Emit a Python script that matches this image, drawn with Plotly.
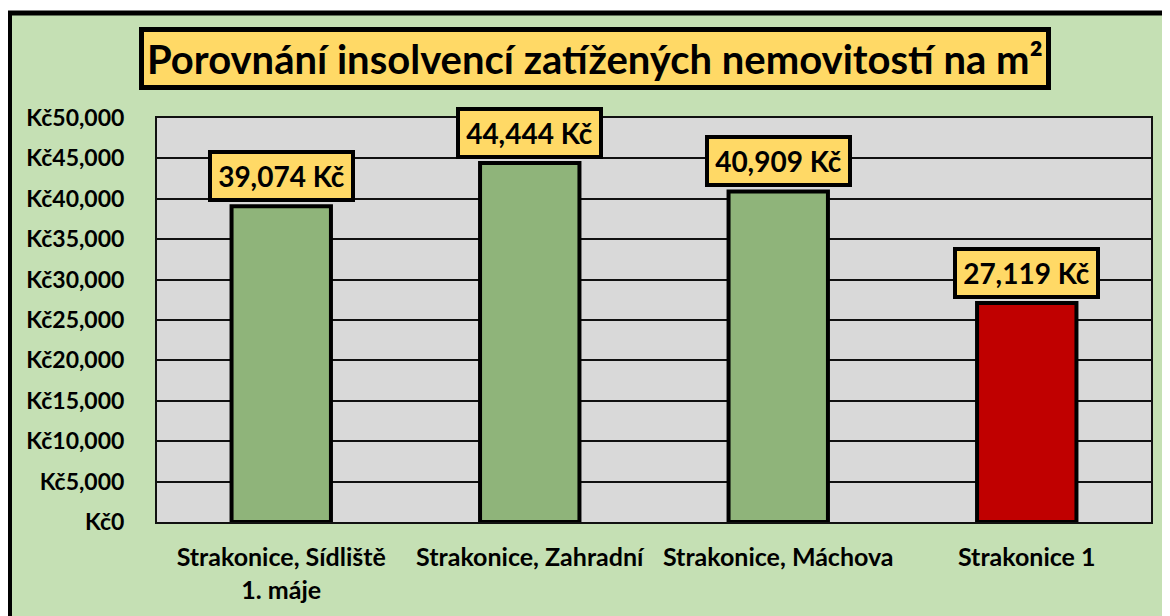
import plotly.graph_objects as go

categories = ["Strakonice, Sídliště<br>1. máje", "Strakonice, Zahradní", "Strakonice, Máchova", "Strakonice 1"]
values = [39074, 44444, 40909, 27119]
bar_colors = ["#8FB47A", "#8FB47A", "#8FB47A", "#C00000"]
tick_vals = [0, 5000, 10000, 15000, 20000, 25000, 30000, 35000, 40000, 45000, 50000]
tick_text = ["Kč0", "Kč5,000", "Kč10,000", "Kč15,000", "Kč20,000", "Kč25,000",
             "Kč30,000", "Kč35,000", "Kč40,000", "Kč45,000", "Kč50,000"]
title_text = "Porovnání insolvencí zatížených nemovitostí na m²"

W, H = 1170, 616
OFF = 8  # page body margin: screen px = figure px + OFF
L, R, T, B = 157 - OFF, 1151 - OFF, 118 - OFF, 522 - OFF
FONT = "Lato"


def px(x):
    return (x - OFF - L) / (R - L)


def py(y):
    return (B - (y - OFF)) / (B - T)


fig = go.Figure()
fig.add_trace(go.Bar(
    x=categories, y=values,
    marker=dict(color=bar_colors, line=dict(color="black", width=4)),
    hoverinfo="skip",
))

annotations = []
for c, v in zip(categories, values):
    annotations.append(dict(
        x=c, y=v, xref="x", yref="y", yanchor="bottom", yshift=4,
        text=f"{v:,} Kč", showarrow=False,
        font=dict(family=FONT, size=28, color="black", weight="bold"),
        bgcolor="#FFD966", bordercolor="black", borderwidth=4, borderpad=2,
        width=135, height=40,
    ))

annotations.append(dict(
    x=px(595), y=py(59), xref="paper", yref="paper",
    xanchor="center", yanchor="middle",
    text=title_text, showarrow=False,
    font=dict(family=FONT, size=40, color="black", weight="bold"),
))

shapes = [
    # title box
    dict(type="rect", xref="paper", yref="paper",
         x0=px(141.5), x1=px(1048.5), y0=py(87.5), y1=py(29.5),
         fillcolor="#FFD966", line=dict(color="black", width=5), layer="above"),
    # white strips outside the chart frame
    dict(type="rect", xref="paper", yref="paper",
         x0=px(-20), x1=px(W + 20), y0=py(11), y1=py(-20),
         fillcolor="white", line=dict(width=0)),
    dict(type="rect", xref="paper", yref="paper",
         x0=px(-20), x1=px(7), y0=py(H + 20), y1=py(-20),
         fillcolor="white", line=dict(width=0)),
    # frame lines
    dict(type="line", xref="paper", yref="paper",
         x0=px(9.5), x1=px(9.5), y0=py(13), y1=py(H + 20),
         line=dict(color="black", width=5)),
    dict(type="line", xref="paper", yref="paper",
         x0=px(7), x1=px(W + 20), y0=py(13), y1=py(13),
         line=dict(color="black", width=5)),
]

fig.update_layout(
    width=W, height=H,
    margin=dict(l=L, r=W - R, t=T, b=H - B),
    paper_bgcolor="#C5E0B4",
    plot_bgcolor="#D9D9D9",
    bargap=0.6,
    showlegend=False,
    annotations=annotations,
    shapes=shapes,
    font=dict(family=FONT, color="black"),
)
fig.update_yaxes(
    range=[0, 50000], tickvals=tick_vals, ticktext=tick_text,
    showgrid=True, gridcolor="#111111", gridwidth=1.6,
    showline=True, linecolor="#111111", linewidth=2, mirror=True,
    zeroline=False, ticks="", ticklabelstandoff=26,
    tickfont=dict(family=FONT, size=23, color="black", weight="bold"),
)
fig.update_xaxes(
    showline=True, linecolor="#111111", linewidth=2, mirror=True,
    ticks="", ticklabelstandoff=12,
    tickfont=dict(family=FONT, size=25, color="black", weight="bold"),
)

fig.write_html(
    "out.html",
    post_script="document.documentElement.style.overflow='hidden';document.body.style.overflow='hidden';",
)
